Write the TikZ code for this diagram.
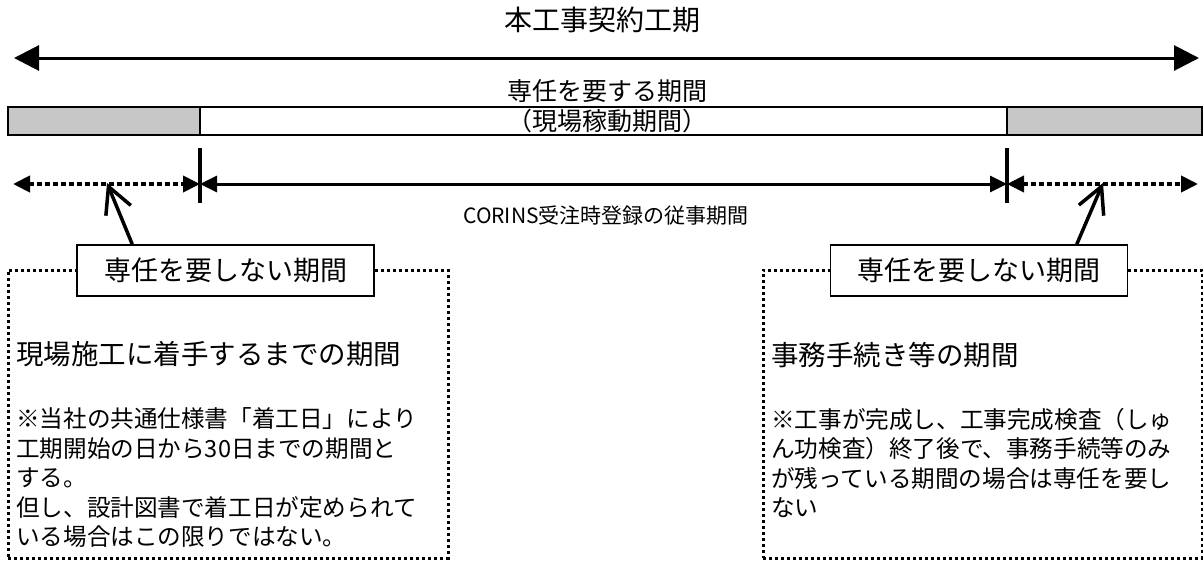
\documentclass[tikz,border=0pt]{standalone}
\usepackage{fontspec}
\setmainfont{Noto Sans CJK JP}
\usetikzlibrary{arrows.meta}
\newcommand\fsz[1]{\fontsize{#1pt}{#1pt}\selectfont}
\begin{document}
\begin{tikzpicture}[x=1pt,y=-1pt,
  bigarrow/.style={line width=3pt,{Triangle[length=25pt,width=25pt]}-{Triangle[length=25pt,width=25pt]}},
  midarrow/.style={line width=3pt,{Triangle[length=17pt,width=16pt]}-{Triangle[length=17pt,width=16pt]}},
  dotarrow/.style={midarrow,line width=4pt,dash pattern=on 5pt off 3pt},
  pointer/.style={line width=3.5pt,-{Straight Barb[length=26pt,width=27pt]}},
  tickline/.style={line width=3.5pt},
  barbox/.style={draw,line width=1.2pt,inner sep=0pt,minimum height=28pt},
  graybar/.style={barbox,fill=black!22},
  dotbox/.style={draw,line width=3pt,dash pattern=on 3pt off 3pt,inner sep=0pt},
  lbl/.style={draw,line width=1.5pt,fill=white,minimum width=297pt,minimum height=51pt,inner sep=0pt,font=\fsz{27}},
  txt/.style={inner sep=0pt,anchor=base west},
  small/.style={txt,font=\fsz{23.6}},
  big/.style={txt,font=\fsz{27.5}}
]
\useasboundingbox (0,0) rectangle (1203,560);

% title and top arrow
\node[inner sep=0pt,anchor=base,font=\fsz{28}] (title) at (602,30.6) {本工事契約工期};
\coordinate (tA) at (14,58);
\coordinate (tB) at (1199,58);
\draw[bigarrow] (tA) -- (tB);

% bar
\node[graybar,minimum width=192pt] (barL) at (104,121) {};
\node[barbox,minimum width=807pt] (barM) at (603.5,121) {};
\node[graybar,minimum width=195pt] (barR) at (1104.5,121) {};
\node[inner sep=0pt,anchor=base,font=\fsz{25}] (need1) at (607,100.5) {専任を要する期間};
\node[inner sep=0pt,anchor=base,font=\fsz{25}] (need2) at (607,130.5) {（現場稼動期間）};

% ticks
\coordinate (tkLt) at (200,148);
\coordinate (tkLb) at (200,203);
\coordinate (tkRt) at (1007,148);
\coordinate (tkRb) at (1007,203);
\draw[tickline] (tkLt) -- (tkLb);
\draw[tickline] (tkRt) -- (tkRb);

% middle arrows
\coordinate (mL) at (13,184);
\coordinate (mA) at (200,184);
\coordinate (mB) at (1007,184);
\coordinate (mR) at (1198,184);
\draw[dotarrow] (mL) -- (mA);
\draw[midarrow] (mA) -- (mB);
\draw[dotarrow] (mB) -- (mR);
\node[inner sep=0pt,anchor=base,font=\fsz{21}] (corins) at (606,223) {CORINS受注時登録の従事期間};

% dotted boxes
\node[dotbox,minimum width=440pt,minimum height=288pt] (boxL) at (228,414) {};
\node[dotbox,minimum width=439pt,minimum height=288pt] (boxR) at (982.5,414) {};

% label boxes
\node[lbl] (lblL) at (225.5,270.5) {専任を要しない期間};
\node[lbl] (lblR) at (979,270.5) {専任を要しない期間};

% pointers
\coordinate (pL) at (107,183);
\coordinate (pR) at (1103,183);
\draw[pointer] ([xshift=56pt]lblL.north west) -- (pL);
\draw[pointer] ([xshift=247pt]lblR.north west) -- (pR);

% left texts
\node[big] (l0) at (16,364.5) {現場施工に着手するまでの期間};
\node[small] (l1) at (16,427.5) {※当社の共通仕様書「着工日」により};
\node[small] (l2) at (16,457) {工期開始の日から30日までの期間と};
\node[small] (l3) at (16,486.5) {する。};
\node[small] (l4) at (16,516) {但し、設計図書で着工日が定められて};
\node[small] (l5) at (16,545.5) {いる場合はこの限りではない。};

% right texts
\node[big] (r0) at (771,365) {事務手続き等の期間};
\node[small] (r1) at (771,428.5) {※工事が完成し、工事完成検査（しゅ};
\node[small] (r2) at (771,457.5) {ん功検査）終了後で、事務手続等のみ};
\node[small] (r3) at (771,487) {が残っている期間の場合は専任を要し};
\node[small] (r4) at (771,516.5) {ない};
\end{tikzpicture}
\end{document}
